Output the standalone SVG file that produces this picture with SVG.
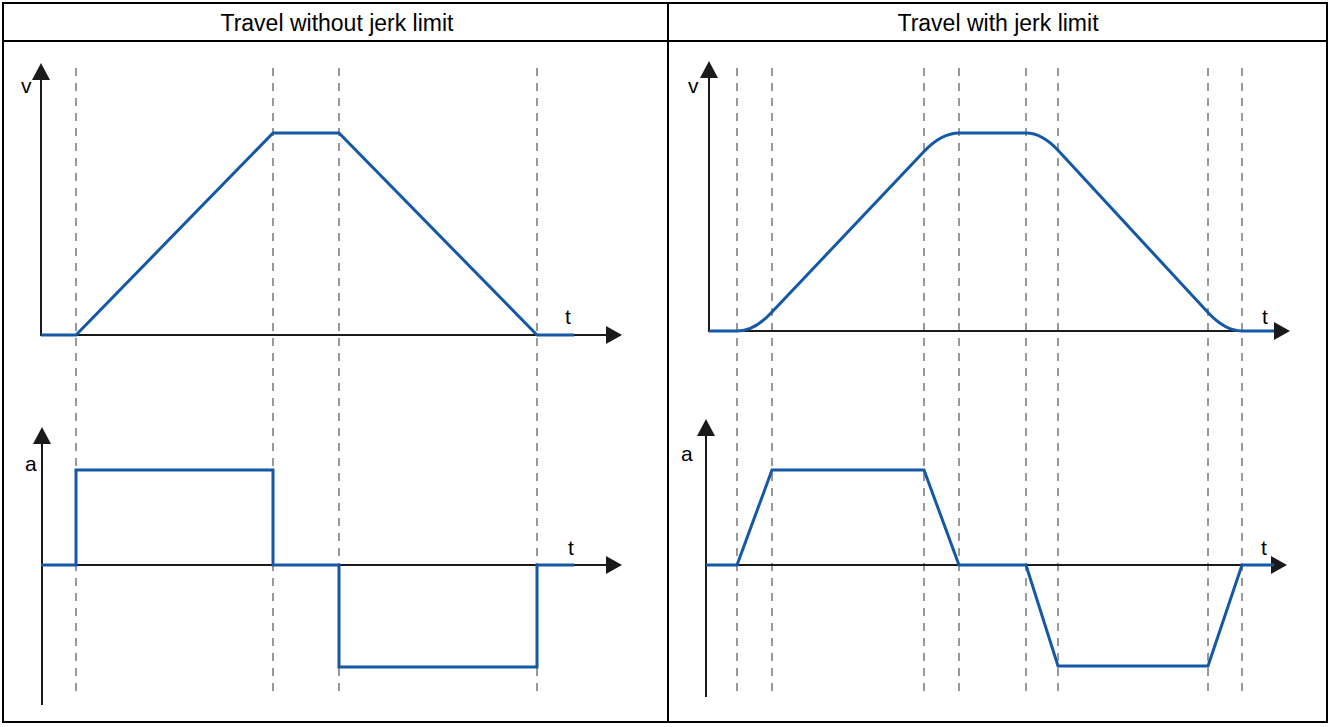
<svg xmlns="http://www.w3.org/2000/svg" width="1330" height="727" viewBox="0 0 1330 727">
<style>
.title{font-family:"Liberation Sans",Arial,sans-serif;font-size:23px;fill:#000;text-anchor:middle}
.lbl{font-family:"Liberation Sans",Arial,sans-serif;font-size:21px;fill:#000}
.frame{fill:none;stroke:#000;stroke-width:2}
.axis{fill:none;stroke:#1a1a1a;stroke-width:2}
.dash{fill:none;stroke:#999;stroke-width:2;stroke-dasharray:8 7}
.curve{fill:none;stroke:#1558a6;stroke-width:3;stroke-linejoin:miter}
.head{fill:#1a1a1a}
</style>
<rect width="1330" height="727" fill="#fff"/>
<g id="table">
<rect class="frame" x="3" y="3" width="1324" height="719"/>
<line class="frame" x1="3" y1="41" x2="1327" y2="41"/>
<line class="frame" x1="668" y1="3" x2="668" y2="722"/>
<text class="title" x="337" y="31">Travel without jerk limit</text>
<text class="title" x="998" y="31">Travel with jerk limit</text>
</g>
<g id="left-grid">
<line class="dash" x1="76" y1="68" x2="76" y2="698"/>
<line class="dash" x1="273" y1="68" x2="273" y2="698"/>
<line class="dash" x1="339" y1="68" x2="339" y2="698"/>
<line class="dash" x1="537" y1="68" x2="537" y2="698"/>
</g>
<g id="right-grid">
<line class="dash" x1="737" y1="68" x2="737" y2="698"/>
<line class="dash" x1="772" y1="68" x2="772" y2="698"/>
<line class="dash" x1="924" y1="68" x2="924" y2="698"/>
<line class="dash" x1="959" y1="68" x2="959" y2="698"/>
<line class="dash" x1="1026" y1="68" x2="1026" y2="698"/>
<line class="dash" x1="1058" y1="68" x2="1058" y2="698"/>
<line class="dash" x1="1208" y1="68" x2="1208" y2="698"/>
<line class="dash" x1="1242" y1="68" x2="1242" y2="698"/>
</g>
<g id="left-v-chart">
<line class="axis" x1="41" y1="78" x2="41" y2="336"/>
<polygon class="head" points="41,63 32,80 50,80"/>
<line class="axis" x1="40" y1="335" x2="607" y2="335"/>
<polygon class="head" points="622,335 606,326 606,344"/>
<text class="lbl" x="21" y="93">v</text>
<text class="lbl" x="565" y="324">t</text>
<polyline class="curve" points="41,335 76,335 273,133 339,133 537,335 574,335"/>
</g>
<g id="left-a-chart">
<line class="axis" x1="42" y1="441" x2="42" y2="705"/>
<polygon class="head" points="42,427 33,444 51,444"/>
<line class="axis" x1="41" y1="565" x2="607" y2="565"/>
<polygon class="head" points="622,565 606,556 606,574"/>
<text class="lbl" x="25" y="471">a</text>
<text class="lbl" x="568" y="555">t</text>
<polyline class="curve" points="41,565 76,565 76,470 273,470 273,565 339,565 339,667 537,667 537,565 574,565"/>
</g>
<g id="right-v-chart">
<line class="axis" x1="709" y1="76" x2="709" y2="332"/>
<polygon class="head" points="709,61 700,78 718,78"/>
<line class="axis" x1="708" y1="331" x2="1275" y2="331"/>
<polygon class="head" points="1290,331 1274,322 1274,340"/>
<text class="lbl" x="688" y="93">v</text>
<text class="lbl" x="1262" y="324">t</text>
<path class="curve" d="M709,331 L737,331 Q754.5,331 772,312 L924,151.5 Q941.5,133 959,133 L1026,133 Q1042,133 1058,150.3 L1208,312.6 Q1225,331 1242,331 L1274,331"/>
</g>
<g id="right-a-chart">
<line class="axis" x1="706" y1="433" x2="706" y2="697"/>
<polygon class="head" points="706,419 697,436 715,436"/>
<line class="axis" x1="705" y1="565" x2="1272" y2="565"/>
<polygon class="head" points="1287,565 1271,556 1271,574"/>
<text class="lbl" x="681" y="461">a</text>
<text class="lbl" x="1261" y="555">t</text>
<polyline class="curve" points="706,565 737,565 772,470 924,470 959,565 1026,565 1058,666 1208,666 1242,565 1274,565"/>
</g>
</svg>
